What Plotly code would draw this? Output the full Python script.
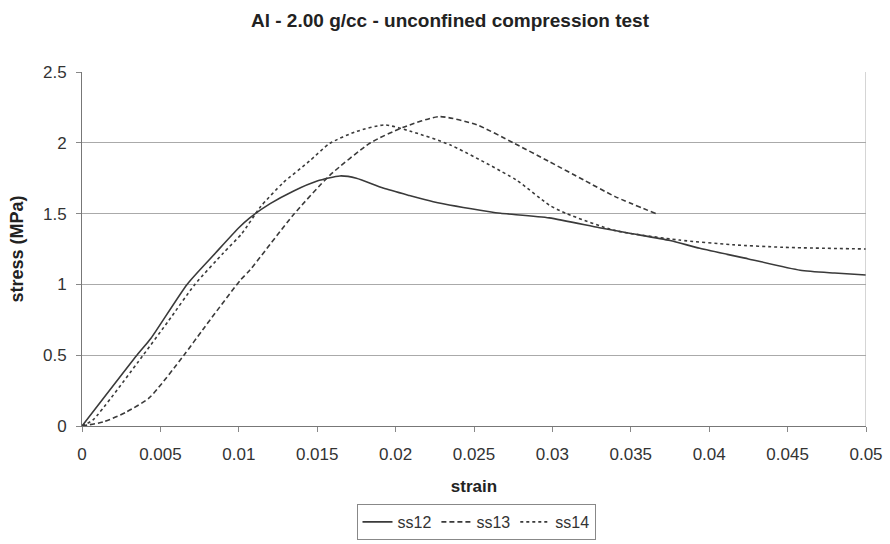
import plotly.graph_objects as go

# ss12 (solid)
ss12_strain = [0, 0.0035, 0.0044, 0.0067, 0.0085, 0.01, 0.0107, 0.012, 0.0135, 0.015, 0.01645,
               0.0175, 0.0192, 0.0208, 0.0224, 0.026, 0.0267, 0.0298, 0.033, 0.035, 0.0375, 0.0394, 0.0425,
               0.0458, 0.048, 0.05]
ss12_stress = [0, 0.5, 0.62, 1.0, 1.22, 1.4, 1.47, 1.57, 1.66, 1.73, 1.766,
               1.75, 1.68, 1.63, 1.584, 1.513, 1.502, 1.47, 1.40, 1.36, 1.31, 1.255, 1.18,
               1.10, 1.08, 1.066]

# ss13 (dashed)
ss13_strain = [0, 0.0014, 0.00285, 0.0043, 0.0065, 0.0077, 0.0101, 0.0107, 0.01347, 0.0158, 0.0184,
               0.0205, 0.0228, 0.0252, 0.0275, 0.0298, 0.032, 0.034, 0.0366]
ss13_stress = [0, 0.03, 0.10, 0.2, 0.5, 0.68, 1.03, 1.10, 1.49, 1.77, 2.0,
               2.11, 2.185, 2.126, 2.0, 1.867, 1.737, 1.62, 1.50]

# ss14 (dotted)
ss14_strain = [0, 0.0007, 0.0039, 0.0055, 0.0072, 0.009, 0.0102, 0.0114, 0.0128, 0.0145, 0.0158,
               0.0175, 0.0193, 0.021, 0.0235, 0.0277, 0.0298, 0.0309, 0.034, 0.0381, 0.0415, 0.0447, 0.05]
ss14_stress = [0, 0.043, 0.5, 0.74, 1.0, 1.22, 1.36, 1.55, 1.715, 1.87, 1.996,
               2.08, 2.126, 2.08, 1.984, 1.737, 1.56, 1.50, 1.38, 1.313, 1.28, 1.262, 1.25]

x_ticks = [0, 0.005, 0.01, 0.015, 0.02, 0.025, 0.03, 0.035, 0.04, 0.045, 0.05]
x_labels = ["0", "0.005", "0.01", "0.015", "0.02", "0.025", "0.03", "0.035", "0.04", "0.045", "0.05"]
y_ticks = [0, 0.5, 1, 1.5, 2, 2.5]
y_labels = ["0", "0.5", "1", "1.5", "2", "2.5"]

line_col = "#3a3a3a"
fig = go.Figure()
fig.add_trace(go.Scatter(x=ss12_strain, y=ss12_stress, mode="lines", name="ss12",
                         line=dict(color=line_col, width=1.6, dash="solid", shape="spline", smoothing=0.6)))
fig.add_trace(go.Scatter(x=ss13_strain, y=ss13_stress, mode="lines", name="ss13",
                         line=dict(color=line_col, width=1.6, dash="5px,3px", shape="spline", smoothing=0.6)))
fig.add_trace(go.Scatter(x=ss14_strain, y=ss14_stress, mode="lines", name="ss14",
                         line=dict(color=line_col, width=1.6, dash="dot", shape="spline", smoothing=0.6)))

font = "Liberation Sans, Arial, sans-serif"
fig.update_layout(
    width=890, height=544,
    margin=dict(l=82, r=24, t=72, b=118, autoexpand=False),
    paper_bgcolor="white", plot_bgcolor="white",
    title=dict(text="<b>Al - 2.00 g/cc - unconfined compression test</b>", x=450 / 890, xanchor="center",
               y=1 - 20 / 544, yanchor="middle", font=dict(family=font, size=19, color="#222")),
    font=dict(family=font, color="#333"),
    xaxis=dict(range=[0, 0.05], tickvals=x_ticks, ticktext=x_labels, showgrid=False,
               showline=True, linecolor="#777", linewidth=1, mirror=False, automargin=False,
               ticks="outside", ticklen=5, tickcolor="#888", zeroline=False,
               ticklabelstandoff=8,
               tickfont=dict(family=font, size=17, color="#333"),
               title=dict(text="<b>strain</b>", font=dict(family=font, size=17, color="#222"), standoff=16)),
    yaxis=dict(range=[0, 2.5], tickvals=y_ticks, ticktext=y_labels, showgrid=True, gridcolor="#aaa",
               gridwidth=1, showline=True, linecolor="#777", linewidth=1, automargin=False,
               ticks="outside", ticklen=5, tickcolor="#888", zeroline=False,
               ticklabelstandoff=6,
               tickfont=dict(family=font, size=17, color="#333"),
               title=dict(text="<b>stress (MPa)</b>", font=dict(family=font, size=18, color="#222"), standoff=14)),
    legend=dict(orientation="h", x=(476 - 82) / 784, xanchor="center", y=-(504 - 426) / 354, yanchor="top",
                bordercolor="#888", borderwidth=1, font=dict(family=font, size=16, color="#333"),
                itemwidth=30, tracegroupgap=0),
    showlegend=True,
)
# right border
fig.add_shape(type="line", xref="x", yref="paper", x0=0.05, x1=0.05, y0=0, y1=1,
              line=dict(color="#aaa", width=1))

fig.write_html("out.html")
